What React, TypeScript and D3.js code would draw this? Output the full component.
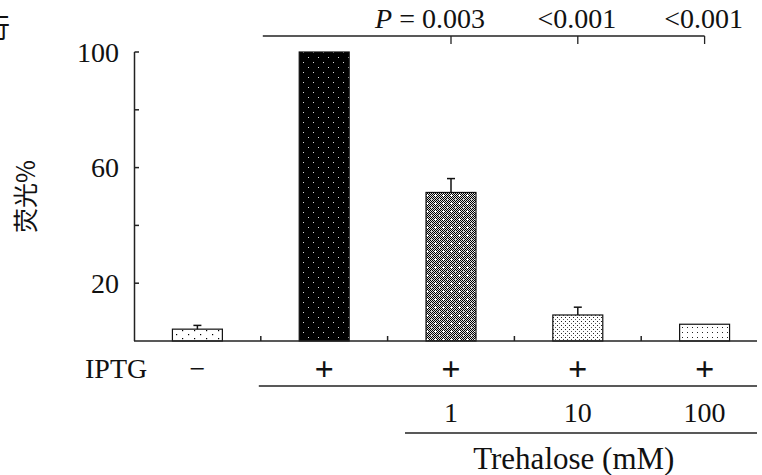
import React, { useEffect, useRef } from 'react';
import * as d3 from 'd3';

const groups = ['ctrl', 'iptg', 't1', 't10', 't100'];
const values = [4.1, 100, 51.4, 9.0, 5.8];
const errors = [1.3, 0, 4.8, 2.7, 0];
const patterns = ['dotSparse', 'blackDots', 'grayCross', 'dotDense', 'dotGrid'];
const iptgMarks = ['−', '+', '+', '+', '+'];
const trehaloseLabels = ['', '', '1', '10', '100'];
const yTicks = [20, 40, 60, 80, 100];
const yLabels = [20, 60, 100];
const pGroups = ['t1', 't10', 't100'];
const pLabels = ['0.003', '<0.001', '<0.001'];

const W = 762;
const H = 475;
const serif = '"Liberation Serif", "Times New Roman", serif';

export default function App() {
  const svgRef = useRef<SVGSVGElement>(null);

  useEffect(() => {
    if (!svgRef.current) return;
    const svg = d3.select(svgRef.current);
    svg.selectAll('*').remove();

    const x = d3.scaleBand<string>()
      .domain(groups)
      .range([134, 768])
      .paddingInner(0.606)
      .paddingOuter(0.303);
    const step = x.step();
    const cx = (g: string) => (x(g) as number) + x.bandwidth() / 2;

    const y = d3.scaleLinear().domain([0, 100]).range([341, 52]);

    // fill patterns
    const defs = svg.append('defs');
    const checker = defs.append('pattern').attr('id', 'checker')
      .attr('patternUnits', 'userSpaceOnUse').attr('width', 2).attr('height', 2);
    checker.append('rect').attr('width', 2).attr('height', 2).attr('fill', '#ddd');
    checker.append('rect').attr('width', 1).attr('height', 1).attr('fill', '#000');
    checker.append('rect').attr('x', 1).attr('y', 1).attr('width', 1).attr('height', 1).attr('fill', '#000');

    const p1 = defs.append('pattern').attr('id', 'dotSparse')
      .attr('patternUnits', 'userSpaceOnUse').attr('width', 12).attr('height', 8);
    p1.append('rect').attr('width', 12).attr('height', 8).attr('fill', '#fff');
    p1.append('rect').attr('x', 2).attr('y', 2).attr('width', 1.2).attr('height', 1.2).attr('fill', '#000');
    p1.append('rect').attr('x', 8).attr('y', 6).attr('width', 1.2).attr('height', 1.2).attr('fill', '#000');

    const p2 = defs.append('pattern').attr('id', 'blackDots')
      .attr('patternUnits', 'userSpaceOnUse').attr('width', 10).attr('height', 10);
    p2.append('rect').attr('width', 10).attr('height', 10).attr('fill', '#000');
    p2.append('rect').attr('x', 3).attr('y', 2).attr('width', 1).attr('height', 1).attr('fill', '#ddd');
    p2.append('rect').attr('x', 8).attr('y', 7).attr('width', 1).attr('height', 1).attr('fill', '#ddd');

    const p3 = defs.append('pattern').attr('id', 'grayCross')
      .attr('patternUnits', 'userSpaceOnUse').attr('width', 8).attr('height', 8);
    p3.append('rect').attr('width', 8).attr('height', 8).attr('fill', 'url(#checker)');
    p3.append('rect').attr('x', 2).attr('y', 3).attr('width', 3).attr('height', 1).attr('fill', '#fff');
    p3.append('rect').attr('x', 3).attr('y', 2).attr('width', 1).attr('height', 3).attr('fill', '#fff');
    p3.append('rect').attr('x', 6).attr('y', 7).attr('width', 2).attr('height', 1).attr('fill', '#bbb');

    const p4 = defs.append('pattern').attr('id', 'dotDense')
      .attr('patternUnits', 'userSpaceOnUse').attr('width', 4).attr('height', 4);
    p4.append('rect').attr('width', 4).attr('height', 4).attr('fill', '#fff');
    p4.append('rect').attr('x', 1).attr('y', 1).attr('width', 1).attr('height', 1).attr('fill', '#222');
    p4.append('rect').attr('x', 3).attr('y', 3).attr('width', 1).attr('height', 1).attr('fill', '#555');

    const p5 = defs.append('pattern').attr('id', 'dotGrid')
      .attr('patternUnits', 'userSpaceOnUse').attr('width', 5).attr('height', 5);
    p5.append('rect').attr('width', 5).attr('height', 5).attr('fill', '#fff');
    p5.append('rect').attr('x', 2).attr('y', 2).attr('width', 1).attr('height', 1).attr('fill', '#222');

    // cut-off character at top-left (only its right half shows in the source)
    svg.append('text')
      .attr('x', 10).attr('y', 38)
      .attr('text-anchor', 'end')
      .attr('font-family', '"Noto Sans CJK SC", sans-serif')
      .attr('font-size', 27)
      .attr('fill', '#111')
      .text('行');

    // y axis title
    svg.append('text')
      .attr('transform', `translate(26,${y(50)}) rotate(-90)`)
      .attr('text-anchor', 'middle')
      .attr('dy', '0.35em')
      .attr('font-family', '"Noto Sans CJK SC", sans-serif')
      .attr('font-size', 25)
      .attr('fill', '#111')
      .text('荧光%');

    // bars
    svg.append('g').selectAll('rect')
      .data(groups)
      .join('rect')
      .attr('x', (d) => x(d) as number)
      .attr('y', (_, i) => y(values[i]))
      .attr('width', x.bandwidth())
      .attr('height', (_, i) => y(0) - y(values[i]))
      .attr('fill', (_, i) => `url(#${patterns[i]})`)
      .attr('stroke', '#111')
      .attr('stroke-width', 1.2);

    // error bars
    const eb = svg.append('g').attr('stroke', '#111').attr('stroke-width', 1.5);
    groups.forEach((g, i) => {
      if (!errors[i]) return;
      const top = y(values[i] + errors[i]);
      eb.append('line').attr('x1', cx(g)).attr('x2', cx(g))
        .attr('y1', y(values[i])).attr('y2', top);
      eb.append('line').attr('x1', cx(g) - 4).attr('x2', cx(g) + 4)
        .attr('y1', top).attr('y2', top);
    });

    // axes
    const ax = svg.append('g').attr('stroke', '#222').attr('stroke-width', 1.5);
    ax.append('line').attr('x1', 134.5).attr('x2', 134.5).attr('y1', y(100)).attr('y2', y(0));
    ax.append('line').attr('x1', 134).attr('x2', 757).attr('y1', y(0)).attr('y2', y(0));
    yTicks.forEach((t) => {
      ax.append('line').attr('x1', 134.5).attr('x2', 139).attr('y1', y(t)).attr('y2', y(t));
    });
    groups.slice(1).forEach((g) => {
      const bx = cx(g) - step / 2;
      ax.append('line').attr('x1', bx).attr('x2', bx).attr('y1', y(0) - 5).attr('y2', y(0));
    });

    svg.append('g').selectAll('text')
      .data(yLabels)
      .join('text')
      .attr('x', 119)
      .attr('y', (d) => y(d))
      .attr('dy', '0.35em')
      .attr('text-anchor', 'end')
      .attr('font-family', serif)
      .attr('font-size', 28)
      .attr('fill', '#111')
      .text((d) => d);

    // significance bracket
    const br = svg.append('g').attr('stroke', '#222').attr('stroke-width', 1.3);
    br.append('line')
      .attr('x1', cx('iptg') - step / 2 + 2).attr('x2', cx('t100'))
      .attr('y1', 36).attr('y2', 36);
    pGroups.forEach((g) => {
      br.append('line').attr('x1', cx(g)).attr('x2', cx(g)).attr('y1', 36).attr('y2', 44);
    });
    const pt = svg.append('g')
      .attr('font-family', serif)
      .attr('font-size', 28)
      .attr('fill', '#111');
    pGroups.forEach((g, i) => {
      const t = pt.append('text')
        .attr('x', cx(g) + (i === 0 ? -21 : -1))
        .attr('y', 28)
        .attr('text-anchor', 'middle');
      if (i === 0) {
        t.append('tspan').attr('font-style', 'italic').text('P');
        t.append('tspan').text(' = ' + pLabels[i]);
      } else {
        t.text(pLabels[i]);
      }
    });

    // IPTG / trehalose rows
    const rows = svg.append('g')
      .attr('font-family', serif)
      .attr('font-size', 28)
      .attr('fill', '#111');
    rows.append('text').attr('x', 85).attr('y', 368).attr('dy', '0.35em').text('IPTG');
    groups.forEach((g, i) => {
      rows.append('text')
        .attr('x', cx(g)).attr('y', 368).attr('dy', '0.35em')
        .attr('text-anchor', 'middle')
        .attr('font-size', iptgMarks[i] === '+' ? 34 : 28)
        .attr('font-weight', iptgMarks[i] === '+' ? 'bold' : 'normal')
        .text(iptgMarks[i]);
      if (trehaloseLabels[i]) {
        rows.append('text')
          .attr('x', cx(g)).attr('y', 412).attr('dy', '0.35em')
          .attr('text-anchor', 'middle')
          .text(trehaloseLabels[i]);
      }
    });
    rows.append('text')
      .attr('x', cx('t10') - 4).attr('y', 458).attr('dy', '0.35em')
      .attr('text-anchor', 'middle')
      .attr('font-size', 31)
      .text('Trehalose (mM)');

    const ul = svg.append('g').attr('stroke', '#222').attr('stroke-width', 1.5);
    ul.append('line')
      .attr('x1', cx('iptg') - step / 2 - 2).attr('x2', 757)
      .attr('y1', 386).attr('y2', 386);
    ul.append('line')
      .attr('x1', cx('t1') - 46).attr('x2', 757)
      .attr('y1', 433).attr('y2', 433);
  }, []);

  return (
    <svg
      ref={svgRef}
      width={W}
      height={H}
      style={{ position: 'absolute', left: 0, top: 0, background: '#fff' }}
    />
  );
}
